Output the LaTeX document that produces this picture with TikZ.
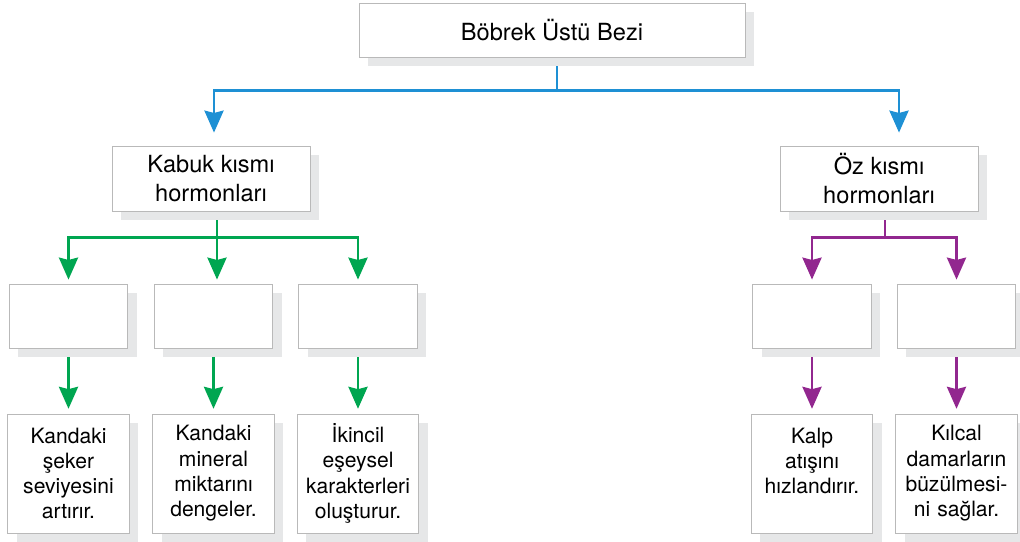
\documentclass[tikz,border=0pt]{standalone}
\usepackage{fontspec}
\setmainfont{TeX Gyre Heros}
\usetikzlibrary{arrows.meta,shadows}

\definecolor{bezblue}{RGB}{30,144,212}
\definecolor{kabukgreen}{RGB}{0,166,81}
\definecolor{ozpurple}{RGB}{146,39,143}
\definecolor{shadowgray}{RGB}{230,231,232}
\definecolor{framegray}{RGB}{185,185,185}

\begin{document}
\begin{tikzpicture}[node distance=3.9375cm,
  box/.style={draw=framegray, line width=0.6pt, fill=white, align=center,
    drop shadow={shadow xshift=0.225cm, shadow yshift=-0.225cm, fill=shadowgray, opacity=1}},
  headbox/.style={box, minimum width=4.95cm, minimum height=1.625cm, font=\fontsize{16.8}{20.8}\selectfont},
  emptybox/.style={box, minimum width=2.96cm, minimum height=1.6cm},
  textbox/.style={box, minimum width=2.96cm, minimum height=2.975cm, text width=2.8cm, font=\fontsize{15}{18}\selectfont},
  link/.style={line width=1.6pt},
  arrowlink/.style={link, -{Stealth[length=0.55cm, width=0.48cm, inset=0.06cm]}}]

  \useasboundingbox (0,0) rectangle (25.5,13.55);

  % Nodes
  \node (bez) [headbox, minimum width=9.65cm, minimum height=1.35cm] at (13.8,12.8) {Böbrek Üstü Bezi};
  \node (kabuk) [headbox] at (5.275,9.0875) {Kabuk kısmı\\ hormonları};
  \node (oz) [headbox] at (21.975,9.0875) {Öz kısmı\\ hormonları};

  \node (seker) [emptybox] at (1.7125,5.65) {};
  \node (mineral) [emptybox] at (5.3375,5.65) {};
  \node (eseysel) [emptybox] at (8.95,5.65) {};
  \node (kalp) [emptybox] at (20.3,5.65) {};
  \node (kilcal) [emptybox] at (23.9125,5.65) {};

  \node (sekertext) [textbox, below of=seker] {Kandaki\\ şeker\\ seviyesini\\ artırır.};
  \node (mineraltext) [textbox, below of=mineral] {Kandaki\\ mineral\\ miktarını\\ dengeler.};
  \node (eseyseltext) [textbox, below of=eseysel] {İkincil\\ eşeysel\\ karakterleri\\ oluşturur.};
  \node (kalptext) [textbox, below of=kalp] {Kalp\\ atışını\\ hızlandırır.\\ \mbox{}};
  \node (kilcaltext) [textbox, below of=kilcal] {Kılcal\\ damarların\\ büzülmesi-\\ ni sağlar.};

  \coordinate (bezfork) at ([xshift=0.12cm, yshift=-0.825cm]bez.south);
  \coordinate (kabukfork) at ([xshift=0.15cm, yshift=-0.65cm]kabuk.south);
  \coordinate (ozfork) at ([xshift=0.15cm, yshift=-0.65cm]oz.south);

  % Arrows
  \draw[link, bezblue] ([xshift=0.12cm, yshift=-0.225cm]bez.south) -- (bezfork);
  \draw[arrowlink, bezblue, shorten >=0.325cm] (bezfork) -| ([xshift=0.075cm]kabuk.north);
  \draw[arrowlink, bezblue, shorten >=0.325cm] (bezfork) -| ([xshift=0.5cm]oz.north);

  \draw[link, kabukgreen] ([xshift=0.15cm, yshift=-0.225cm]kabuk.south) -- (kabukfork);
  \draw[arrowlink, kabukgreen, shorten >=0.1cm] (kabukfork) -| (seker.north);
  \draw[arrowlink, kabukgreen, shorten >=0.1cm] (kabukfork) -- (kabukfork |- mineral.north);
  \draw[arrowlink, kabukgreen, shorten >=0.1cm] (kabukfork) -| (eseysel.north);

  \draw[link, ozpurple] ([xshift=0.15cm, yshift=-0.225cm]oz.south) -- (ozfork);
  \draw[arrowlink, ozpurple, shorten >=0.1cm] (ozfork) -| (kalp.north);
  \draw[arrowlink, ozpurple, shorten >=0.1cm] (ozfork) -| (kilcal.north);

  \draw[arrowlink, kabukgreen, shorten >=0.12cm] ([yshift=-0.225cm]seker.south) -- (sekertext.north);
  \draw[arrowlink, kabukgreen, shorten >=0.12cm] ([yshift=-0.225cm]mineral.south) -- (mineraltext.north);
  \draw[arrowlink, kabukgreen, shorten >=0.12cm] ([yshift=-0.225cm]eseysel.south) -- (eseyseltext.north);
  \draw[arrowlink, ozpurple, shorten >=0.12cm] ([yshift=-0.225cm]kalp.south) -- (kalptext.north);
  \draw[arrowlink, ozpurple, shorten >=0.12cm] ([yshift=-0.225cm]kilcal.south) -- (kilcaltext.north);

\end{tikzpicture}
\end{document}
